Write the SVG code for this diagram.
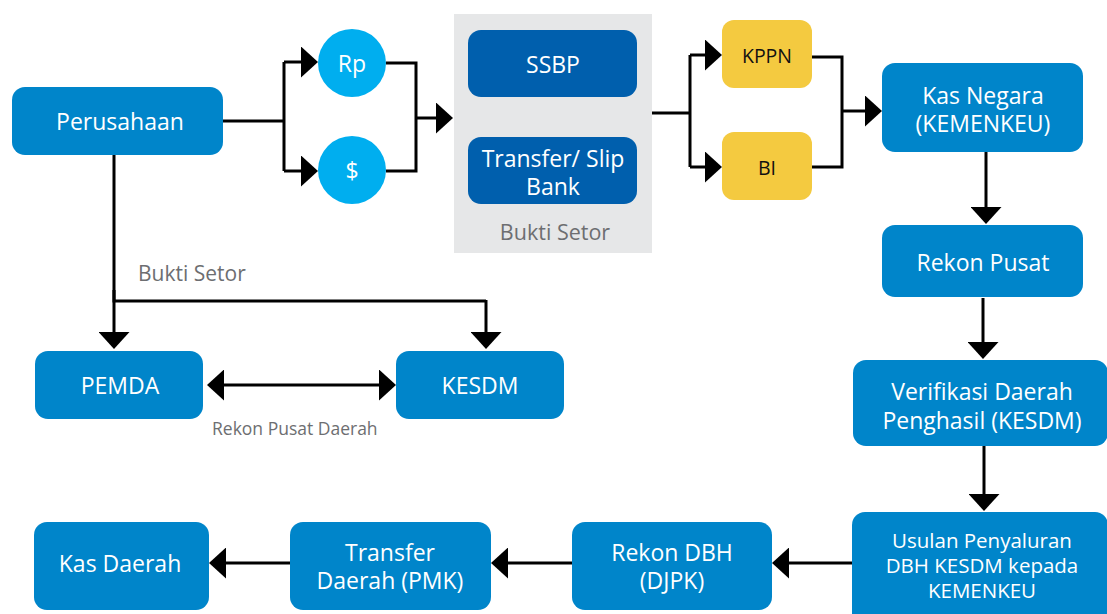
<svg xmlns="http://www.w3.org/2000/svg" width="1107" height="614" viewBox="0 0 1107 614">
<style>
.box{fill:#0085CA}
.dark{fill:#005FAD}
.circ{fill:#00AEEF}
.yel{fill:#F4CA40}
.t{font-family:"Open Sans","Noto Sans","Liberation Sans",sans-serif;fill:#fff;text-anchor:middle;dominant-baseline:central;font-size:23px}
.sm{font-size:20.5px}
.tk{font-family:"Open Sans","Noto Sans","Liberation Sans",sans-serif;fill:#111;text-anchor:middle;dominant-baseline:central;font-size:19.5px}
.lbl{font-family:"Open Sans","Noto Sans","Liberation Sans",sans-serif;fill:#6D6E71;dominant-baseline:central}
.c{fill:none;stroke:#000;stroke-width:3}
.a{marker-end:url(#ah)}
</style>
<defs>
<marker id="ah" viewBox="0 0 17 31" markerWidth="17" markerHeight="31" refX="9" refY="15.5" orient="auto-start-reverse" markerUnits="userSpaceOnUse">
<path d="M0,0 L17,15.5 L0,31 Z" fill="#000"/>
</marker>
</defs>
<rect width="1107" height="614" fill="#fff"/>

<g id="connectors">
<path class="c" d="M223,121 H284 M284,62 V171 M386,63 H416 V171 H386 M652,113 H690 M690,55 V167 M812,57 H842 V167 H812 M114,155 V301 H486"/>
<path class="c a" d="M284,62 H310"/>
<path class="c a" d="M284,171 H310"/>
<path class="c a" d="M416,118 H445"/>
<path class="c a" d="M690,55 H714"/>
<path class="c a" d="M690,167 H714"/>
<path class="c a" d="M842,111 H874"/>
<path class="c a" d="M986,152 V216"/>
<path class="c a" d="M983,298 V351"/>
<path class="c a" d="M984,446 V503"/>
<path class="c a" d="M852,563 H780"/>
<path class="c a" d="M572,563 H499"/>
<path class="c a" d="M290,563 H217"/>
<path class="c a" d="M114,290 V341"/>
<path class="c a" d="M486,300 V341"/>
<path class="c" d="M215,385 H388" marker-start="url(#ah)" marker-end="url(#ah)"/>
</g>

<g id="perusahaan"><rect class="box" x="12" y="87" width="211" height="68" rx="13"/><text class="t" x="120" y="121">Perusahaan</text></g>
<g id="rp"><circle class="circ" cx="352" cy="63" r="34"/><text class="t" x="352" y="63">Rp</text></g>
<g id="dollar"><circle class="circ" cx="352" cy="170" r="34"/><text class="t" x="352" y="170">$</text></g>
<g id="bukti-panel">
<rect x="454" y="14" width="198" height="239" fill="#E6E7E8"/>
<text class="lbl" x="555" y="231" text-anchor="middle" font-size="21.5">Bukti Setor</text>
</g>
<g id="ssbp"><rect class="dark" x="468" y="30" width="169" height="67" rx="13"/><text class="t" x="553" y="64">SSBP</text></g>
<g id="transfer-slip"><rect class="dark" x="468" y="137" width="169" height="67" rx="13"/><text class="t"><tspan x="553" y="158">Transfer/ Slip</tspan><tspan x="553" y="186">Bank</tspan></text></g>
<g id="kppn"><rect class="yel" x="722" y="20" width="90" height="68" rx="12"/><text class="tk" x="767" y="55">KPPN</text></g>
<g id="bi"><rect class="yel" x="722" y="132" width="90" height="68" rx="12"/><text class="tk" x="767" y="167">BI</text></g>
<g id="kas-negara"><rect class="box" x="882" y="63" width="201" height="89" rx="13"/><text class="t"><tspan x="983" y="95">Kas Negara</tspan><tspan x="983" y="123">(KEMENKEU)</tspan></text></g>
<g id="rekon-pusat"><rect class="box" x="882" y="225" width="201" height="72" rx="13"/><text class="t" x="983" y="262">Rekon Pusat</text></g>
<g id="verifikasi"><rect class="box" x="853" y="360" width="255" height="86" rx="13"/><text class="t"><tspan x="982" y="391">Verifikasi Daerah</tspan><tspan x="982" y="420">Penghasil (KESDM)</tspan></text></g>
<g id="usulan"><rect class="box" x="852" y="512" width="256" height="115" rx="13"/><text class="t sm"><tspan x="982" y="540">Usulan Penyaluran</tspan><tspan x="982" y="565">DBH KESDM kepada</tspan><tspan x="982" y="590">KEMENKEU</tspan></text></g>
<g id="rekon-dbh"><rect class="box" x="572" y="522" width="200" height="88" rx="13"/><text class="t"><tspan x="672" y="552">Rekon DBH</tspan><tspan x="672" y="580">(DJPK)</tspan></text></g>
<g id="transfer-daerah"><rect class="box" x="290" y="522" width="201" height="88" rx="13"/><text class="t"><tspan x="390" y="552">Transfer</tspan><tspan x="390" y="580">Daerah (PMK)</tspan></text></g>
<g id="kas-daerah"><rect class="box" x="34" y="522" width="175" height="88" rx="13"/><text class="t" x="120" y="563">Kas Daerah</text></g>
<g id="pemda"><rect class="box" x="35" y="351" width="168" height="68" rx="13"/><text class="t" x="120" y="385">PEMDA</text></g>
<g id="kesdm"><rect class="box" x="396" y="351" width="168" height="68" rx="13"/><text class="t" x="480" y="385">KESDM</text></g>
<text class="lbl" x="138" y="273" font-size="21">Bukti Setor</text>
<text class="lbl" x="212" y="428" font-size="17.5">Rekon Pusat Daerah</text>
</svg>
